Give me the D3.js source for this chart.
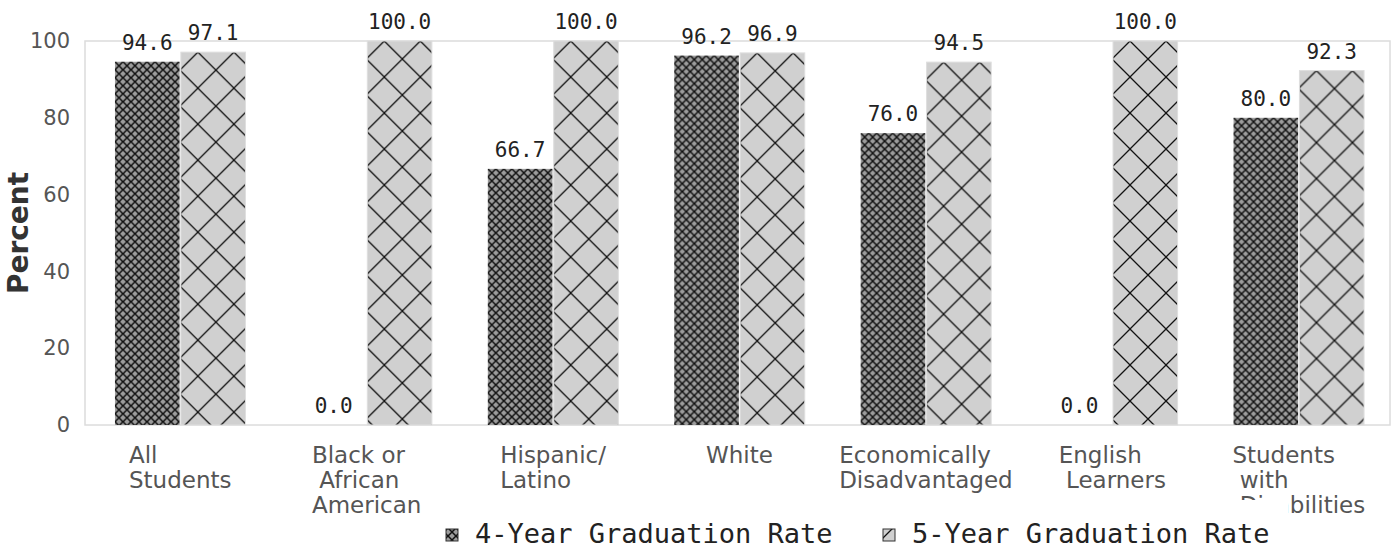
<!DOCTYPE html>
<html><head><meta charset="utf-8">
<script src="https://cdn.jsdelivr.net/npm/d3@7"></script>
<style>html,body{margin:0;padding:0;background:#fff;} svg{display:block;}</style>
</head><body>
<svg id="chart" width="1399" height="549"></svg>
<script>
const categories = ["All Students","Black or African American","Hispanic/Latino","White","Economically Disadvantaged","English Learners","Students with Disabilities"];
const categoryLines = [["All","Students"],["Black or"," African","American"],["Hispanic/","Latino"],["White"],["Economically","Disadvantaged"],["English"," Learners"],["Students"," with"," Disabilities"]];
const seriesNames = ["4-Year Graduation Rate","5-Year Graduation Rate"];
const fourYear = [94.6, 0.0, 66.7, 96.2, 76.0, 0.0, 80.0];
const fiveYear = [97.1, 100.0, 100.0, 96.9, 94.5, 100.0, 92.3];
const yTicks = [0, 20, 40, 60, 80, 100];

const svg = d3.select("#chart");
const plotLeft = 85, plotRight = 1390, plotTop = 41, plotBottom = 425;

const defs = svg.append("defs");
const p4 = defs.append("pattern").attr("id","p4").attr("patternUnits","userSpaceOnUse")
  .attr("width",8).attr("height",8).attr("x",0).attr("y",0);
p4.append("rect").attr("width",8).attr("height",8).attr("fill","#9c9c9c");
p4.append("path").attr("d","M0,0L8,8M8,0L0,8").attr("stroke","#111").attr("stroke-width",1.5);
const p5 = defs.append("pattern").attr("id","p5").attr("patternUnits","userSpaceOnUse")
  .attr("width",36).attr("height",36).attr("x",17).attr("y",0);
p5.append("rect").attr("width",36).attr("height",36).attr("fill","#d0d0d0");
p5.append("path").attr("d","M0,0L36,36M36,0L0,36").attr("stroke","#111").attr("stroke-width",1.3);

const x0 = d3.scaleBand().domain(categories).range([plotLeft+2, plotRight+2]).paddingInner(0.3).paddingOuter(0.15);
const x1 = d3.scaleBand().domain(seriesNames).range([0, x0.bandwidth()]).paddingInner(0.02);
const y = d3.scaleLinear().domain([0,100]).range([plotBottom, plotTop]);

// frame
svg.append("rect").attr("x",plotLeft).attr("y",plotTop).attr("width",plotRight-plotLeft).attr("height",plotBottom-plotTop)
  .attr("fill","none").attr("stroke","#dcdcdc").attr("stroke-width",1.5);

// y axis
const yAxis = svg.append("g").attr("transform",`translate(${plotLeft},0)`)
  .call(d3.axisLeft(y).tickValues(yTicks).tickSize(0).tickPadding(15).tickFormat(d3.format("d")));
yAxis.select(".domain").remove();
yAxis.selectAll("text").attr("font-family","DejaVu Sans").attr("font-size",21).attr("fill","#555");

svg.append("text").attr("transform",`translate(28,${(plotTop+plotBottom)/2}) rotate(-90)`)
  .attr("text-anchor","middle").attr("font-family","DejaVu Sans").attr("font-weight","bold")
  .attr("font-size",28).attr("fill","#333").text("Percent");

const data = categories.map((c,i)=>({cat:c, vals:[{s:seriesNames[0],v:fourYear[i],pat:"p4"},{s:seriesNames[1],v:fiveYear[i],pat:"p5"}]}));

const groups = svg.append("g").selectAll("g").data(data).join("g")
  .attr("transform", d=>`translate(${x0(d.cat)},0)`);

const bars = groups.selectAll("g.bar").data(d=>d.vals).join("g").attr("class","bar")
  .attr("transform", d=>`translate(${x1(d.s)},${y(d.v)})`);
bars.append("rect").attr("x",0).attr("y",0).attr("width",x1.bandwidth())
  .attr("height", d=>plotBottom - y(d.v))
  .attr("fill", d=>`url(#${d.pat})`)
  .attr("stroke", d=>d.pat==="p5" ? "#dedede" : "none").attr("stroke-width",1);

groups.selectAll("text.val").data(d=>d.vals).join("text").attr("class","val")
  .attr("x", d=>x1(d.s)+x1.bandwidth()/2).attr("y", d=>y(d.v)-12)
  .attr("text-anchor","middle").attr("font-family","DejaVu Sans Mono").attr("font-size",21)
  .attr("fill","#222").text(d=>d3.format(".1f")(d.v));

// x labels
const xl = svg.append("g").selectAll("text").data(categories).join("text")
  .attr("font-family","DejaVu Sans").attr("font-size",23).attr("fill","#555")
  .attr("xml:space","preserve").style("white-space","pre");
xl.each(function(c,i){
  const t = d3.select(this);
  const lines = categoryLines[i];
  lines.forEach((ln,j)=>{
    t.append("tspan").attr("y", 463 + j*25).text(ln);
  });
  let maxW = 0;
  t.selectAll("tspan").each(function(){ maxW = Math.max(maxW, this.getComputedTextLength()); });
  const lx = x0(c) + x0.bandwidth()/2 - maxW/2;
  t.selectAll("tspan").attr("x", lx);
});

// legend
const lg = svg.append("g");
lg.append("rect").attr("x",436).attr("y",500).attr("width",852).attr("height",49).attr("fill","#fff");
const legendX = [446, 883];
seriesNames.forEach((s,i)=>{
  lg.append("rect").attr("x",legendX[i]).attr("y",529).attr("width",12).attr("height",12)
    .attr("fill", i===0 ? "url(#p4)" : "url(#p5)").attr("stroke","#333").attr("stroke-width",1);
  lg.append("text").attr("x",legendX[i]+29).attr("y",543).attr("font-family","DejaVu Sans Mono")
    .attr("font-size",27).attr("fill","#222").text(s);
});
</script>
</body></html>
